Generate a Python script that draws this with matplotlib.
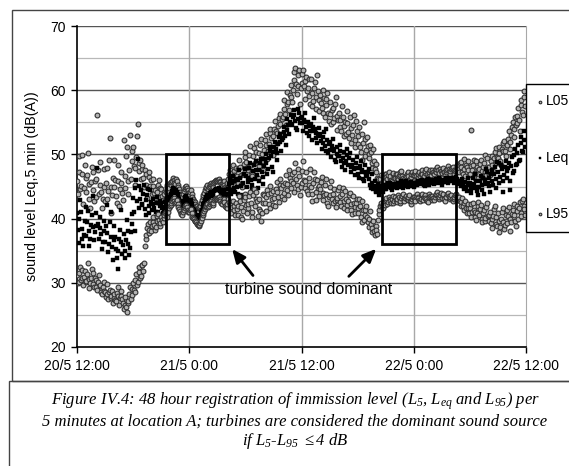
import numpy as np
import matplotlib
matplotlib.use("Agg")
import matplotlib.pyplot as plt
from matplotlib.patches import Rectangle

plt.rcParams['font.family'] = ['Liberation Sans', 'DejaVu Sans']
plt.rcParams['mathtext.fontset'] = 'custom'
plt.rcParams['mathtext.rm'] = 'Liberation Serif:italic'
plt.rcParams['mathtext.it'] = 'Liberation Serif:italic'

# ---------------- data (5-minute samples from 20/5 12:00, one row per hour) ----------------
L05 = [
    45.8, 43.9, 49.7, 47.2, 44.6, 45.1, 46.9, 49.9, 42.3, 44.8, 48.4, 46.3,
    44.1, 46.8, 50.2, 45.4, 43.0, 41.7, 45.7, 48.1, 47.3, 44.5, 42.8, 45.9,
    46.2, 43.4, 56.2, 47.6, 43.9, 45.3, 48.8, 44.2, 41.6, 43.1, 45.0, 47.7,
    42.7, 45.6, 47.9, 43.1, 44.3, 49.2, 52.5, 45.0, 40.8, 43.7, 46.4, 44.9,
    49.1, 46.0, 43.5, 42.4, 45.8, 48.3, 41.9, 44.6, 47.2, 45.5, 44.0, 42.9,
    52.2, 44.7, 46.7, 49.8, 51.1, 45.9, 43.8, 47.5, 53.0, 46.2, 48.9, 50.6,
    51.1, 48.2, 45.3, 47.9, 49.6, 52.8, 54.7, 48.6, 47.4, 49.1, 46.1, 47.8,
    48.3, 46.4, 44.9, 47.6, 47.0, 45.2, 43.2, 44.7, 46.5, 47.3, 45.1, 46.0,
    43.8, 45.1, 46.2, 44.0, 44.5, 43.1, 42.6, 44.2, 45.3, 46.0, 43.4, 44.8,
    44.6, 43.5, 42.9, 44.2, 43.8, 42.7, 44.1, 45.0, 45.2, 44.3, 44.7, 45.5,
    45.3, 45.7, 45.9, 46.3, 46.0, 45.6, 45.4, 46.1, 45.8, 45.2, 44.9, 44.6,
    44.2, 43.8, 43.6, 43.3, 43.9, 44.3, 44.6, 45.0, 45.1, 44.8, 44.4, 44.0,
    43.8, 44.2, 44.5, 43.9, 43.4, 43.0, 42.8, 42.6, 42.3, 42.0, 41.9, 41.7,
    41.6, 41.8, 42.0, 42.5, 42.9, 43.3, 43.7, 44.0, 44.4, 44.7, 44.9, 45.2,
    44.6, 44.9, 45.1, 45.4, 45.6, 45.3, 45.0, 45.5, 45.7, 45.9, 46.0, 45.8,
    45.8, 46.0, 46.2, 45.9, 45.7, 45.4, 45.2, 45.6, 45.9, 45.3, 45.0, 44.7,
    44.8, 45.5, 46.1, 46.9, 47.6, 46.0, 45.2, 47.1, 48.3, 47.4, 46.8, 45.9,
    47.9, 46.7, 45.6, 47.8, 49.2, 48.0, 46.8, 45.3, 44.9, 47.0, 48.5, 49.6,
    50.4, 48.8, 46.9, 47.5, 48.1, 49.9, 51.3, 48.4, 47.2, 46.6, 49.7, 51.0,
    48.6, 50.3, 51.8, 49.0, 46.4, 48.2, 50.2, 51.4, 52.4, 50.0, 48.9, 47.6,
    50.7, 52.2, 53.1, 51.4, 49.3, 50.6, 51.6, 53.4, 54.0, 52.5, 50.8, 49.9,
    52.9, 54.0, 55.2, 53.6, 51.7, 53.3, 54.4, 55.7, 56.3, 54.8, 53.1, 55.5,
    55.8, 57.1, 58.4, 56.3, 54.6, 57.8, 59.7, 58.2, 56.9, 59.2, 60.8, 58.9,
    58.2, 60.1, 61.6, 62.8, 63.5, 61.0, 59.4, 60.7, 62.3, 63.1, 57.9, 60.4,
    61.1, 62.5, 63.2, 60.6, 58.7, 61.4, 62.0, 59.8, 60.3, 61.7, 59.1, 57.8,
    61.8, 59.6, 57.6, 58.3, 60.4, 61.2, 58.9, 57.1, 62.4, 59.9, 56.8, 58.5,
    59.3, 58.0, 57.2, 56.5, 60.1, 58.8, 55.9, 57.7, 58.6, 59.5, 56.4, 55.2,
    58.1, 56.3, 54.7, 56.9, 57.3, 55.0, 55.6, 57.9, 59.0, 56.0, 53.8, 55.4,
    56.4, 55.3, 54.2, 53.6, 57.6, 55.8, 52.9, 54.5, 55.1, 53.2, 56.8, 54.9,
    53.5, 52.6, 55.9, 54.1, 51.8, 53.0, 54.6, 56.2, 52.3, 51.1, 55.2, 53.7,
    51.6, 52.9, 54.3, 51.2, 50.4, 49.2, 53.2, 51.8, 55.0, 52.4, 49.8, 50.7,
    52.7, 51.3, 50.1, 49.4, 51.5, 50.3, 48.6, 47.9, 50.9, 49.0, 47.8, 48.5,
    47.2, 46.4, 46.1, 45.0, 45.4, 46.2, 46.8, 45.6, 45.9, 46.7, 46.5, 47.0,
    46.9, 46.5, 46.2, 46.8, 47.3, 46.4, 46.6, 46.0, 45.8, 46.9, 47.1, 46.3,
    46.4, 46.9, 47.0, 46.3, 46.1, 46.6, 46.8, 47.2, 47.4, 46.7, 46.3, 46.0,
    45.9, 46.4, 46.7, 47.0, 47.2, 46.6, 46.0, 46.2, 46.5, 46.9, 47.3, 46.8,
    46.8, 47.1, 47.4, 46.7, 46.2, 46.5, 47.0, 47.3, 46.6, 46.9, 47.5, 47.0,
    46.3, 46.7, 47.1, 47.4, 47.7, 47.0, 46.5, 46.9, 47.2, 47.6, 46.8, 47.3,
    47.6, 47.2, 46.9, 47.4, 47.3, 47.7, 48.0, 47.5, 46.7, 47.1, 47.8, 47.4,
    47.1, 47.6, 47.9, 47.3, 46.8, 47.2, 47.5, 47.8, 48.2, 47.7, 47.0, 47.4,
    47.7, 47.9, 48.1, 47.5, 46.9, 47.4, 47.6, 48.0, 48.4, 47.8, 47.3, 48.6,
    48.8, 48.0, 47.2, 46.9, 49.3, 47.7, 46.6, 48.4, 48.1, 49.0, 47.5, 46.8,
    46.9, 48.2, 53.8, 47.6, 48.4, 49.1, 47.1, 46.4, 49.0, 48.0, 46.3, 47.5,
    47.8, 48.5, 49.2, 47.4, 46.5, 48.0, 48.6, 49.9, 47.3, 46.8, 49.5, 48.1,
    48.1, 47.0, 46.8, 48.9, 49.8, 48.3, 47.4, 49.4, 50.3, 51.0, 48.7, 49.6,
    49.4, 50.2, 51.2, 49.0, 48.3, 50.9, 50.6, 51.8, 52.1, 50.5, 49.7, 51.5,
    51.5, 52.4, 53.6, 51.9, 50.8, 53.0, 54.3, 55.1, 52.7, 54.0, 55.8, 54.6,
    54.9, 56.0, 57.3, 55.4, 53.6, 57.7, 58.4, 56.6, 56.2, 58.9, 59.8, 57.5,
]
Leq = [
    40.8, 38.3, 36.2, 39.9, 42.9, 41.1, 38.4, 36.8, 35.7, 37.4, 39.6, 41.8,
    37.3, 39.4, 41.2, 38.0, 35.8, 36.9, 39.0, 40.6, 43.5, 38.7, 36.6, 37.9,
    38.8, 40.9, 47.9, 39.2, 36.9, 38.5, 40.3, 37.6, 35.2, 36.3, 38.1, 39.7,
    36.4, 38.9, 42.1, 37.7, 34.8, 36.0, 39.5, 41.0, 37.2, 35.6, 33.6, 36.7,
    38.9, 37.1, 35.3, 33.8, 32.1, 34.9, 36.8, 38.2, 41.4, 36.3, 34.5, 35.9,
    37.6, 35.0, 33.9, 36.6, 39.8, 38.1, 36.1, 34.4, 35.4, 37.9, 40.7, 39.1,
    43.2, 41.0, 38.0, 44.8, 46.0, 42.7, 49.3, 45.1, 41.6, 43.0, 44.4, 42.2,
    42.1, 43.8, 45.2, 41.5, 40.6, 42.9, 43.7, 44.6, 41.9, 40.8, 44.5, 42.6,
    41.3, 42.2, 43.0, 41.6, 40.2, 41.1, 42.4, 43.3, 41.0, 40.5, 42.8, 42.0,
    42.5, 41.6, 40.9, 41.4, 41.8, 42.6, 42.2, 42.9, 43.1, 43.4, 42.9, 43.3,
    43.6, 43.9, 44.3, 44.7, 44.6, 44.2, 44.0, 44.4, 44.2, 43.8, 43.4, 43.1,
    42.7, 42.3, 42.1, 41.9, 42.4, 42.8, 43.0, 43.3, 43.5, 43.1, 42.8, 42.5,
    42.3, 42.6, 42.9, 42.3, 41.8, 41.5, 41.3, 41.0, 40.8, 40.6, 40.4, 40.2,
    40.1, 40.3, 40.6, 41.0, 41.4, 41.8, 42.2, 42.5, 42.9, 43.2, 43.4, 43.6,
    43.1, 43.4, 43.7, 44.0, 44.2, 43.9, 43.5, 44.0, 44.3, 44.5, 44.6, 44.4,
    44.4, 44.6, 44.8, 44.5, 44.3, 44.0, 43.7, 44.1, 44.5, 43.9, 43.6, 43.3,
    43.2, 43.9, 44.6, 45.4, 46.1, 44.5, 43.9, 45.6, 46.7, 45.9, 44.8, 44.1,
    46.2, 45.0, 43.8, 46.0, 47.5, 46.3, 45.1, 43.7, 43.4, 45.5, 46.9, 47.8,
    47.8, 46.6, 44.9, 45.7, 46.3, 47.9, 48.6, 46.0, 45.2, 44.6, 47.4, 48.3,
    46.1, 47.5, 48.9, 46.8, 44.7, 45.9, 47.6, 48.7, 49.3, 47.2, 46.5, 45.4,
    48.2, 49.3, 50.1, 48.6, 46.9, 47.8, 49.4, 50.5, 51.2, 49.8, 48.0, 47.3,
    50.3, 51.1, 52.0, 50.8, 49.1, 50.2, 51.6, 52.7, 53.2, 51.9, 50.5, 52.3,
    52.6, 53.5, 54.3, 52.9, 51.4, 53.8, 55.5, 54.6, 53.1, 55.0, 56.2, 54.8,
    54.6, 55.8, 56.9, 56.2, 55.2, 54.1, 53.8, 55.5, 57.1, 56.4, 54.9, 55.7,
    55.8, 54.9, 53.7, 55.3, 56.4, 55.0, 54.2, 53.4, 55.1, 54.5, 52.9, 53.6,
    54.8, 53.7, 52.3, 54.2, 55.6, 54.0, 53.4, 52.6, 51.8, 53.0, 54.1, 52.8,
    53.2, 52.1, 50.8, 51.7, 52.7, 53.5, 51.3, 50.5, 53.9, 52.2, 50.2, 51.6,
    51.9, 50.7, 49.6, 51.3, 52.4, 50.9, 50.5, 49.2, 48.8, 50.0, 51.2, 49.8,
    49.7, 50.6, 51.5, 49.0, 48.1, 49.4, 50.3, 48.6, 47.6, 48.9, 49.9, 50.8,
    48.4, 49.5, 50.2, 48.0, 47.2, 48.3, 49.1, 47.7, 46.8, 47.9, 48.7, 49.6,
    47.9, 47.0, 46.4, 48.2, 49.0, 47.6, 47.3, 46.1, 45.8, 47.2, 48.3, 46.7,
    46.6, 47.3, 47.8, 46.2, 45.3, 44.8, 46.9, 45.6, 44.6, 45.1, 45.9, 44.3,
    44.2, 44.8, 45.4, 44.3, 43.7, 44.5, 44.9, 45.1, 44.1, 44.7, 45.2, 44.6,
    44.6, 45.0, 45.3, 45.5, 44.9, 45.2, 45.6, 44.8, 44.4, 44.9, 45.1, 45.4,
    45.2, 45.0, 44.7, 45.1, 45.5, 45.3, 45.0, 45.6, 45.8, 45.2, 44.8, 45.1,
    45.4, 45.7, 45.9, 45.2, 44.9, 45.1, 45.3, 45.6, 45.7, 45.4, 45.1, 45.5,
    44.9, 45.3, 45.6, 45.4, 45.2, 45.7, 45.9, 45.5, 45.4, 45.8, 46.0, 45.6,
    45.5, 45.3, 45.1, 45.6, 45.8, 46.0, 46.2, 45.7, 45.3, 45.5, 45.7, 46.0,
    45.9, 45.6, 45.4, 45.8, 46.1, 45.9, 45.6, 46.0, 46.3, 46.1, 45.8, 45.5,
    45.3, 45.7, 46.0, 45.8, 45.7, 46.1, 46.4, 45.9, 45.5, 45.8, 46.1, 46.3,
    45.8, 46.0, 46.3, 45.9, 45.6, 46.2, 46.5, 46.1, 45.9, 45.6, 45.4, 45.9,
    45.1, 45.8, 46.2, 45.2, 44.6, 45.0, 45.7, 44.9, 44.3, 45.5, 46.4, 45.3,
    45.5, 44.6, 44.0, 45.1, 46.3, 45.4, 44.8, 46.9, 45.9, 44.3, 43.7, 45.0,
    44.9, 45.8, 46.6, 44.4, 45.2, 46.3, 43.9, 45.4, 46.0, 47.8, 47.3, 45.6,
    46.4, 45.1, 44.2, 46.9, 47.6, 45.8, 45.3, 47.0, 48.1, 46.2, 44.7, 48.8,
    47.2, 48.6, 45.6, 46.5, 48.4, 47.7, 44.1, 45.9, 46.8, 48.0, 49.0, 47.4,
    46.3, 47.9, 48.7, 45.8, 44.5, 48.2, 49.6, 47.1, 47.4, 49.9, 50.9, 48.4,
    48.5, 50.2, 51.4, 48.9, 49.2, 51.8, 52.7, 50.6, 50.3, 52.2, 53.6, 51.1,
]
L95 = [
    31.2, 29.9, 30.1, 31.6, 32.4, 30.4, 30.7, 32.0, 29.6, 30.9, 31.8, 30.2,
    30.3, 31.4, 33.1, 30.6, 29.2, 30.0, 30.8, 32.2, 31.6, 29.8, 29.4, 30.7,
    30.5, 29.3, 28.9, 30.2, 31.2, 29.5, 29.7, 28.6, 28.3, 29.4, 30.1, 28.8,
    28.6, 27.8, 29.8, 28.2, 27.4, 28.5, 28.9, 27.6, 27.9, 28.8, 26.8, 27.7,
    28.2, 27.3, 27.1, 28.4, 29.3, 27.9, 26.6, 27.6, 28.7, 28.0, 27.5, 26.9,
    25.9, 26.6, 27.8, 26.3, 25.5, 26.9, 27.2, 28.3, 29.4, 27.4, 28.1, 29.0,
    29.9, 28.9, 28.6, 30.4, 31.3, 29.6, 30.2, 31.7, 32.4, 30.8, 31.0, 32.7,
    32.8, 31.9, 33.1, 35.8, 36.9, 37.4, 38.6, 39.1, 37.8, 38.2, 39.4, 38.0,
    38.8, 39.5, 40.2, 39.0, 38.3, 38.7, 39.6, 40.4, 40.7, 39.8, 38.9, 39.3,
    40.3, 39.8, 39.4, 40.1, 40.6, 40.9, 41.1, 40.6, 40.2, 41.0, 41.6, 41.9,
    42.1, 42.4, 42.7, 43.0, 43.2, 42.8, 42.4, 42.6, 42.9, 42.3, 41.8, 41.5,
    41.2, 40.9, 40.7, 40.5, 41.0, 41.3, 41.6, 41.9, 42.1, 41.8, 41.4, 41.1,
    41.0, 41.3, 41.5, 40.9, 40.3, 40.1, 39.9, 39.7, 39.6, 39.4, 39.2, 39.0,
    38.9, 39.0, 39.3, 39.7, 40.1, 40.5, 40.9, 41.2, 41.5, 41.8, 42.0, 42.2,
    41.8, 42.0, 42.3, 42.6, 42.8, 42.4, 42.1, 42.5, 42.9, 43.0, 43.2, 43.1,
    43.0, 43.2, 43.4, 43.1, 42.8, 42.5, 42.2, 42.7, 43.1, 42.6, 42.0, 41.8,
    41.6, 42.3, 43.0, 42.6, 42.1, 41.4, 40.9, 41.8, 42.7, 42.0, 41.3, 40.6,
    42.4, 41.5, 40.6, 42.0, 43.5, 42.7, 41.8, 40.3, 39.9, 41.2, 42.9, 43.8,
    43.3, 42.1, 40.8, 41.6, 42.2, 43.5, 44.1, 42.4, 41.1, 40.2, 43.6, 44.6,
    41.9, 43.1, 44.2, 42.7, 40.4, 41.5, 43.0, 41.2, 39.6, 40.9, 42.5, 43.9,
    43.6, 42.4, 41.2, 43.3, 44.5, 43.8, 42.3, 41.7, 45.1, 44.0, 43.0, 42.1,
    44.3, 43.2, 42.0, 44.6, 45.7, 44.1, 43.4, 42.6, 46.2, 45.3, 44.8, 43.5,
    45.2, 44.0, 43.1, 45.6, 46.8, 45.4, 44.4, 43.6, 47.5, 46.3, 45.9, 44.7,
    46.9, 45.5, 44.2, 47.3, 48.6, 46.1, 45.3, 44.6, 47.8, 46.6, 43.7, 45.0,
    45.6, 47.4, 48.9, 46.0, 44.8, 45.9, 47.2, 44.3, 43.9, 45.2, 46.4, 47.7,
    45.0, 43.8, 42.7, 45.5, 47.3, 46.2, 44.1, 42.9, 46.0, 44.7, 43.5, 45.1,
    44.6, 45.7, 46.5, 44.0, 42.9, 43.6, 45.2, 46.1, 43.8, 42.5, 41.9, 43.3,
    43.7, 44.9, 45.8, 43.1, 42.4, 43.9, 44.6, 42.8, 41.8, 42.9, 43.2, 44.4,
    44.9, 43.5, 42.6, 41.9, 43.8, 44.7, 41.7, 42.8, 44.3, 43.0, 42.1, 41.4,
    42.8, 43.6, 44.0, 42.2, 41.3, 40.7, 43.5, 42.5, 40.9, 41.8, 42.4, 43.1,
    41.6, 40.8, 43.1, 41.9, 40.2, 39.5, 42.7, 41.3, 39.8, 40.6, 41.4, 42.0,
    40.3, 39.4, 38.7, 40.0, 41.2, 39.1, 37.9, 38.5, 39.6, 38.1, 37.4, 38.9,
    38.2, 37.6, 39.8, 40.7, 41.3, 42.0, 42.4, 41.9, 41.7, 42.3, 42.6, 42.1,
    42.9, 43.2, 42.3, 42.6, 43.4, 43.0, 42.7, 42.4, 43.1, 43.5, 42.5, 42.8,
    43.3, 42.9, 42.6, 43.1, 43.7, 43.4, 42.4, 42.8, 43.2, 43.5, 43.8, 43.0,
    42.8, 43.2, 43.5, 43.0, 42.9, 43.3, 43.6, 42.7, 42.3, 42.8, 43.1, 43.4,
    43.4, 43.0, 42.8, 43.5, 43.9, 43.3, 43.2, 42.9, 42.7, 43.1, 43.6, 43.8,
    42.9, 43.4, 43.7, 43.2, 43.1, 42.8, 42.6, 43.3, 43.8, 43.5, 43.3, 42.9,
    43.5, 43.2, 42.9, 43.4, 43.6, 43.9, 44.1, 43.6, 43.0, 43.3, 43.7, 44.0,
    43.2, 43.6, 43.9, 43.1, 42.8, 43.3, 43.4, 43.8, 44.0, 43.5, 43.1, 43.4,
    43.6, 43.1, 42.7, 43.0, 43.3, 43.7, 43.9, 43.4, 42.9, 43.2, 43.4, 42.8,
    42.6, 42.0, 43.2, 41.9, 41.4, 42.4, 42.8, 41.6, 40.9, 41.7, 42.2, 40.8,
    41.7, 42.3, 40.3, 41.0, 42.5, 41.4, 41.1, 40.2, 39.8, 40.9, 41.9, 42.6,
    40.6, 41.5, 42.1, 40.0, 39.4, 40.8, 41.3, 39.7, 40.1, 41.8, 42.4, 40.4,
    39.7, 40.5, 41.0, 39.3, 38.6, 39.9, 40.4, 41.5, 42.0, 40.2, 39.2, 38.8,
    40.8, 39.6, 37.9, 38.7, 39.9, 41.1, 41.6, 39.4, 38.4, 39.0, 40.5, 41.3,
    39.3, 40.4, 41.8, 39.9, 38.1, 39.5, 40.7, 41.4, 42.3, 40.6, 39.6, 38.9,
    41.2, 42.0, 40.0, 41.7, 42.6, 40.9, 40.4, 42.8, 43.1, 41.9, 41.5, 40.6,
]
hours = np.arange(len(L05)) / 12.0

tick_hours = [0, 12, 24, 36, 48]
tick_labels = ["20/5 12:00", "21/5 0:00", "21/5 12:00", "22/5 0:00", "22/5 12:00"]
boxes = [(9.5, 16.2), (32.6, 40.5)]   # turbine-dominant periods (hours)
box_levels = (36, 50)

W, H = 569, 466
fig = plt.figure(figsize=(W / 100, H / 100), dpi=100)

# chart frame and caption frame
fig.add_artist(Rectangle((12 / W, 1 - 381 / H), 1.2, 371 / H, transform=fig.transFigure,
                         fill=False, edgecolor='#444444', lw=1.0))
fig.add_artist(Rectangle((9 / W, -0.2), 1.2, 0.2 + (466 - 381) / H, transform=fig.transFigure,
                         fill=False, edgecolor='#444444', lw=1.0))

ax = fig.add_axes([77 / W, (H - 347) / H, 449 / W, 321 / H])
ax.set_xlim(0, 48)
ax.set_ylim(20, 70)

# grid
for y in [25, 35, 45, 55, 65]:
    ax.axhline(y, color='#b8b8b8', lw=0.9, zorder=0)
for y in [30, 40, 50, 60, 70]:
    ax.axhline(y, color='#555555', lw=1.0, zorder=0)
for x in [12, 24, 36]:
    ax.axvline(x, color='#a8a8a8', lw=1.0, zorder=0)

ax.scatter(hours, L05, s=12, marker='o', facecolor='#b4b4b4', edgecolor='#303030',
           linewidths=0.8, zorder=3, label='L05')
ax.scatter(hours, Leq, s=10, marker='s', facecolor='black', edgecolor='black',
           linewidths=0.3, zorder=3, label='Leq')
ax.scatter(hours, L95, s=12, marker='o', facecolor='#b4b4b4', edgecolor='#303030',
           linewidths=0.8, zorder=3, label='L95')

for x0, x1 in boxes:
    ax.add_patch(Rectangle((x0, box_levels[0]), x1 - x0, box_levels[1] - box_levels[0],
                           fill=False, edgecolor='black', lw=2.0, zorder=4))

arrow_kw = dict(arrowstyle='-|>,head_length=0.8,head_width=0.35', color='black', lw=2.0)
ax.annotate('', xy=(16.4, 35.6), xytext=(19.0, 30.8), arrowprops=arrow_kw, zorder=5)
ax.annotate('', xy=(32.2, 35.6), xytext=(28.85, 30.7), arrowprops=arrow_kw, zorder=5)
ax.text(24.75, 29.0, 'turbine sound dominant', ha='center', va='center', fontsize=11.5, zorder=5)

for s in ['left', 'bottom']:
    ax.spines[s].set_color('black')
    ax.spines[s].set_linewidth(1.2)
ax.spines['top'].set_visible(False)
ax.spines['right'].set_color('#a8a8a8')

ax.set_xticks(tick_hours)
ax.set_xticklabels(tick_labels)
ax.set_yticks([20, 30, 40, 50, 60, 70])
ax.tick_params(axis='both', labelsize=10, length=4, width=1, color='black')
ax.tick_params(axis='x', pad=5)
ax.tick_params(axis='y', pad=4)
ax.set_ylabel('sound level Leq,5 min (dB(A))', fontsize=10.3)
ax.yaxis.set_label_coords(-0.085, 0.5)

leg = ax.legend(loc='upper left', bbox_to_anchor=(1.0, 1 - (84 - 26) / 321), frameon=True,
                fancybox=False, edgecolor='black', framealpha=1, fontsize=10,
                markerscale=0.55, handlelength=0.5, handletextpad=0.15, labelspacing=3.05,
                borderpad=0.75, borderaxespad=0)
leg.get_frame().set_linewidth(1.0)

cap_x = 295 / W
cap_kw = dict(ha='center', va='center', fontsize=12, family='Liberation Serif', style='italic')
fig.text(cap_x, 1 - 401.7 / H,
         r'Figure IV.4: 48 hour registration of immission level ($L_5$, $L_{eq}$ and $L_{95}$) per', **cap_kw)
fig.text(cap_x, 1 - 421.5 / H,
         '5 minutes at location A; turbines are considered the dominant sound source', **cap_kw)
fig.text(cap_x, 1 - 440.7 / H, r'if $L_5$-$L_{95}$ $\leq$4 dB', **cap_kw)

fig.savefig('out.png', dpi=100)
